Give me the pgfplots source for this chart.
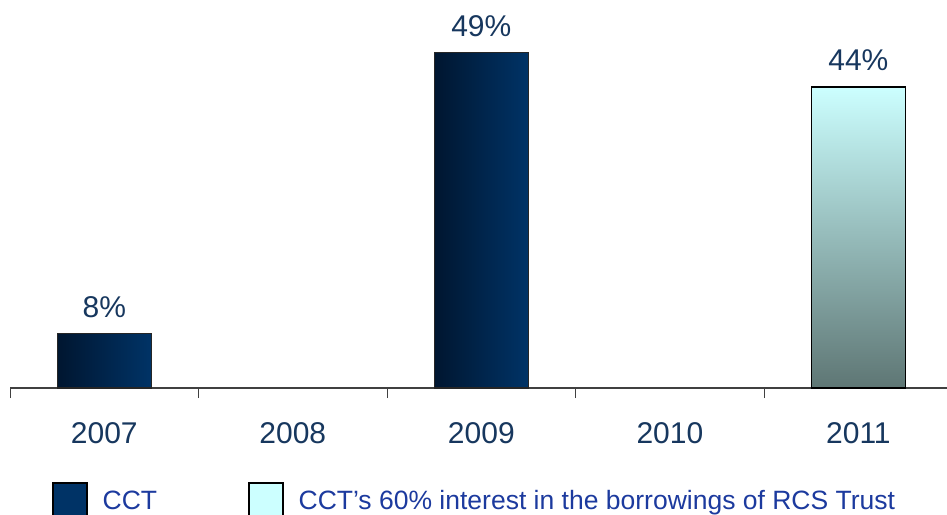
\documentclass[border=0pt]{standalone}
\usepackage{pgfplots}
\pgfplotsset{compat=1.18}
\usepackage{fontspec}
\setmainfont{Liberation Sans}
\definecolor{lblblue}{HTML}{17375E}
\definecolor{legblue}{HTML}{1C3A9E}
\definecolor{navy}{HTML}{003366}
\definecolor{navydark}{HTML}{001630}
\definecolor{cyanlight}{HTML}{CCFFFF}
\definecolor{greygreen}{HTML}{5E7674}
\begin{document}
\begin{tikzpicture}
\useasboundingbox (0,0) rectangle (947pt,514pt);
\clip (0,0) rectangle (947pt,514pt);
\begin{axis}[
  at={(10pt,126pt)}, anchor=south west,
  scale only axis, width=937pt, height=388pt,
  xmin=-0.5, xmax=4.47, ymin=0, ymax=56.7,
  axis y line=none, axis x line=bottom,
  axis line style={-, draw=black!75, line width=1.2pt},
  xtick={0,1,2,3,4}, xticklabels={2007,2008,2009,2010,2011},
  major tick length=0pt, tick align=outside,
  extra x ticks={-0.5,0.5,1.5,2.5,3.5}, extra x tick labels={},
  extra x tick style={major tick length=10pt, tick style={draw=black!75, line width=1pt}},
  xticklabel style={font=\fontsize{30}{32}\selectfont, text=lblblue, anchor=base, yshift=-55pt, inner sep=0pt},
  ybar, bar width=94pt,
  nodes near coords={\pgfmathprintnumber[assume math mode=true]{\pgfplotspointmeta}\%},
  every node near coord/.append style={font=\fontsize{30}{32}\selectfont, text=lblblue, anchor=base, inner sep=0pt, yshift=16pt},
  legend style={at={(0.0448,-0.242)}, anchor=north west, draw=none, fill=none, inner sep=0pt,
    font=\fontsize{26.5}{28}\selectfont, text=legblue, legend columns=2,
    /tikz/every odd column/.append style={column sep=15pt},
    /tikz/every even column/.append style={column sep=91pt},
    nodes={inner sep=0pt}},
]
\addlegendimage{legend image code/.code={\draw[fill=navy, draw=black, line width=1.5pt] (0pt,-16pt) rectangle (34pt,18pt);}}
\addlegendentry{CCT}
\addlegendimage{legend image code/.code={\draw[fill=cyanlight, draw=black, line width=1.5pt] (0pt,-16pt) rectangle (34pt,18pt);}}
\addlegendentry{CCT’s 60\% interest in the borrowings of RCS Trust}
\addplot[ybar, bar shift=0pt, draw=black!85, line width=1.2pt, left color=navydark, right color=navy, forget plot]
  coordinates {(0,8)};
\addplot[ybar, bar shift=0pt, draw=black!85, line width=1.2pt, left color=navydark, right color=navy, forget plot]
  coordinates {(2,49)};
\addplot[ybar, bar shift=0pt, draw=black, line width=1.2pt, top color=cyanlight, bottom color=greygreen, forget plot]
  coordinates {(4,44)};
\end{axis}
\end{tikzpicture}
\end{document}
